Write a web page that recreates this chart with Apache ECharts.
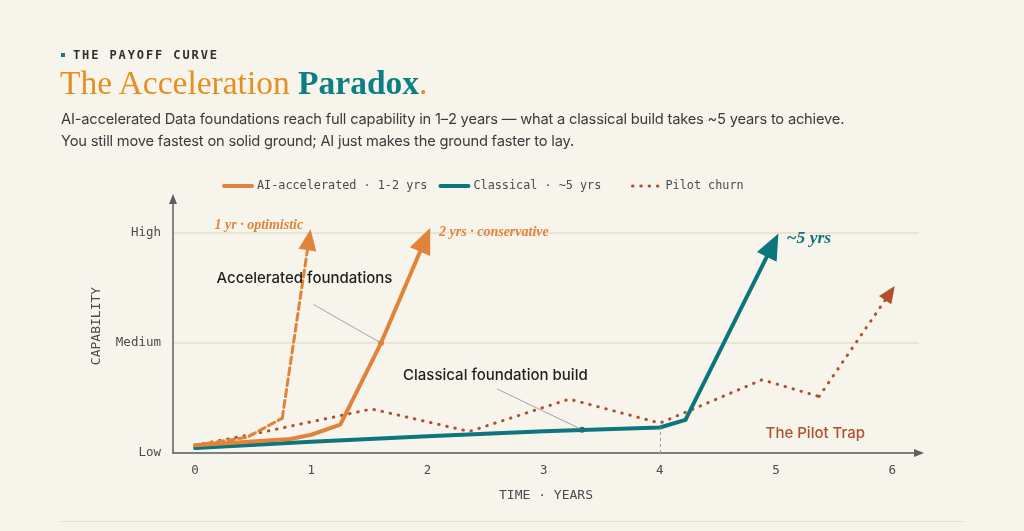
<!DOCTYPE html>
<html>
<head>
<meta charset="utf-8">
<script src="https://cdn.jsdelivr.net/npm/echarts@6/dist/echarts.min.js"></script>
<style>
  html, body { margin: 0; padding: 0; background: #f7f4ec; }
  #wrap { position: relative; width: 1024px; height: 531px; overflow: hidden; }
  #chart { position: absolute; left: 0; top: 0; width: 1024px; height: 531px; }
  .kicker {
    position: absolute; left: 73px; top: 48px; line-height: 14px;
    font-family: "DejaVu Sans Mono", monospace; font-size: 12px; font-weight: bold;
    letter-spacing: 1.9px; color: #2f3033;
  }
  .kicker-dot { position: absolute; left: 61px; top: 53px; width: 4px; height: 4px; background: #0e7c80; }
  .title {
    position: absolute; left: 60px; top: 63px; line-height: 40px; white-space: nowrap;
    font-family: "Liberation Serif", serif; font-size: 33.5px; color: #e58f22;
  }
  .title b { color: #0c7f82; font-weight: bold; }
  .sub {
    position: absolute; left: 61px; top: 108px; line-height: 22px; white-space: nowrap;
    font-family: Inter, "Noto Sans", sans-serif; font-size: 14.7px; letter-spacing: -0.2px; color: #3a3b3d;
  }
  .rule { position: absolute; left: 60px; top: 521px; width: 904px; height: 1px; background: #e4dfd2; }
</style>
</head>
<body>
<div id="wrap">
  <div id="chart"></div>
  <div class="kicker-dot"></div>
  <div class="kicker">THE PAYOFF CURVE</div>
  <div class="title">The Acceleration <b>Paradox</b>.</div>
  <div class="sub">AI-accelerated Data foundations reach full capability in 1–2 years — what a classical build takes ~5 years to achieve.<br>You still move fastest on solid ground; AI just makes the ground faster to lay.</div>
  <div class="rule"></div>
</div>
<script>
// x = years, y = capability (0 = Low, 50 = Medium, 100 = High)
const xTicks = [0, 1, 2, 3, 4, 5, 6];
const levelValues = [0, 50, 100];
const levelLabels = ['Low', 'Medium', 'High'];

// last point of each curve is where the arrow head sits
const aiConservative = [[0, 3.5], [0.82, 6.4], [1, 8.3], [1.25, 12.9], [1.6, 50], [1.98, 97]];
const aiOptimistic = [[0, 3.5], [0.45, 7.2], [0.75, 15.8], [0.98, 97]];
const classical = [[0, 2.3], [1, 5.1], [2, 7.6], [3, 9.9], [4, 11.6], [4.22, 15.1], [4.97, 94.5]];
const pilotChurn = [[0, 3.5], [0.5, 8.6], [1, 14.2], [1.52, 20], [2.36, 9.8], [3.22, 24.5],
                    [4, 13.6], [4.88, 33.3], [5.37, 25.7], [5.98, 72.7]];

const legendNames = ['AI-accelerated · 1-2 yrs', 'Classical · ~5 yrs', 'Pilot churn'];
const legendWidths = [4, 4, 3];

// callout texts
const calloutText = ['Accelerated foundations', 'Classical foundation build'];
const calloutAt = [[0.185, 79.5], [1.79, 35.1]];
const calloutFrom = [[1.02, 67.5], [2.6, 29.1]];
const calloutTo = [[1.6, 50], [3.33, 10.6]];

const tagText = ['1 yr · optimistic', '2 yrs · conservative', '~5 yrs'];
const tagAt = [[0.93, 103.3], [2.1, 100.3], [5.09, 97.7]];
const trapText = 'The Pilot Trap';
const trapAt = [4.91, 8.8];
const guideX = 4;

const ORANGE = '#e0843b';
const TEAL = '#0d767d';
const RUST = '#b0502d';
const MONO = '"DejaVu Sans Mono", monospace';
const SANS = 'Inter, "Noto Sans", sans-serif';
const SERIF = '"Liberation Serif", serif';

function trend(name, pts, color, width, dash, arrowSize, z) {
  const n = pts.length;
  return {
    name: name,
    type: 'line',
    data: pts.slice(0, n - 1),
    symbol: 'none',
    silent: true,
    z: z,
    lineStyle: { color: color, width: width, type: dash, cap: 'round', join: 'round' },
    itemStyle: { color: color },
    markLine: {
      silent: true,
      animation: false,
      symbol: ['none', 'triangle'],
      symbolSize: arrowSize,
      label: { show: false },
      lineStyle: { color: color, width: width, type: dash, cap: 'round' },
      data: [[{ coord: pts[n - 2] }, { coord: pts[n - 1] }]]
    }
  };
}

function legendBlock(names, left) {
  return {
    data: names.map(nm => ({ name: nm, lineStyle: { width: legendWidths[legendNames.indexOf(nm)] } })),
    top: 180, left: left, padding: 0,
    itemWidth: 28, itemHeight: 12, itemGap: 11,
    itemStyle: { opacity: 0 },
    textStyle: { fontFamily: MONO, fontSize: 11.8, color: '#4a4b4e' }
  };
}

const chart = echarts.init(document.getElementById('chart'));

const notePoints = [];
calloutText.forEach((t, i) => {
  notePoints.push({
    coord: calloutAt[i], symbolSize: 0,
    label: { show: true, position: 'right', distance: 0, formatter: t,
             color: '#1e1f21', fontFamily: SANS, fontSize: 15, fontWeight: 500 }
  });
});
notePoints.push({ coord: calloutTo[0], symbol: 'circle', symbolSize: 6, itemStyle: { color: ORANGE }, label: { show: false } });
notePoints.push({ coord: calloutTo[1], symbol: 'circle', symbolSize: 6, itemStyle: { color: TEAL }, label: { show: false } });
tagText.forEach((t, i) => {
  notePoints.push({
    coord: tagAt[i], symbolSize: 0,
    label: { show: true, position: i === 0 ? 'left' : 'right', distance: 0, formatter: t,
             color: i === 2 ? TEAL : ORANGE, fontFamily: SERIF, fontStyle: 'italic',
             fontWeight: 'bold', fontSize: i === 2 ? 17.5 : 14 }
  });
});
notePoints.push({
  coord: trapAt, symbolSize: 0,
  label: { show: true, position: 'right', distance: 0, formatter: trapText,
           color: RUST, fontFamily: SANS, fontSize: 15, fontWeight: 500 }
});

const noteLines = calloutFrom.map((f, i) => [
  { coord: f, lineStyle: { color: '#a3a3a3', width: 1, type: 'solid' } },
  { coord: calloutTo[i] }
]);
noteLines.push([
  { coord: [guideX, 0], lineStyle: { color: '#9a9a9a', width: 1, type: [3, 3] } },
  { coord: [guideX, classical[4][1]] }
]);

chart.setOption({
  backgroundColor: 'transparent',
  animation: false,
  grid: { left: 173, right: 105, top: 199, bottom: 78 },
  legend: [
    legendBlock(legendNames.slice(0, 2), 222),
    legendBlock(legendNames.slice(2), 631)
  ],
  xAxis: {
    type: 'value',
    min: -0.19, max: 6.23,
    name: 'TIME · YEARS',
    nameLocation: 'middle', nameGap: 36,
    nameTextStyle: { fontFamily: MONO, fontSize: 13, color: '#4a4b4e' },
    axisLine: { onZero: false, lineStyle: { color: '#5b5e63', width: 1.5 },
                symbol: ['none', 'triangle'], symbolSize: [8, 10] },
    axisTick: { show: false },
    splitLine: { show: false },
    axisLabel: { customValues: xTicks, margin: 11, fontFamily: MONO, fontSize: 12.5, color: '#4a4b4e' }
  },
  yAxis: {
    type: 'value',
    min: 0, max: 115.5,
    name: 'CAPABILITY',
    nameLocation: 'middle', nameGap: 70, nameRotate: 90,
    nameTextStyle: { fontFamily: MONO, fontSize: 13, color: '#4a4b4e' },
    axisLine: { show: true, onZero: false, lineStyle: { color: '#5b5e63', width: 1.5 },
                symbol: ['none', 'triangle'], symbolSize: [8, 10] },
    axisTick: { show: false, customValues: levelValues },
    splitLine: { show: true, lineStyle: { color: '#e5dfcc', width: 1.5 } },
    axisLabel: {
      customValues: levelValues, margin: 12, padding: [4, 0, 0, 0],
      fontFamily: MONO, fontSize: 12.5, color: '#4a4b4e',
      formatter: v => levelLabels[levelValues.indexOf(v)]
    }
  },
  series: [
    trend('Pilot churn', pilotChurn, RUST, 3, [0.5, 7.8], [15, 17], 2),
    trend('Classical · ~5 yrs', classical, TEAL, 4, 'solid', [22, 26], 3),
    trend('AI-accelerated · optimistic', aiOptimistic, ORANGE, 3, [7, 4], [18, 21], 4),
    trend('AI-accelerated · 1-2 yrs', aiConservative, ORANGE, 4, 'solid', [22, 26], 5),
    {
      name: 'notes',
      type: 'line',
      data: [],
      silent: true,
      z: 6,
      markLine: {
        silent: true, animation: false, symbol: ['none', 'none'],
        label: { show: false }, data: noteLines
      },
      markPoint: { silent: true, animation: false, data: notePoints }
    }
  ]
});
</script>
</body>
</html>
